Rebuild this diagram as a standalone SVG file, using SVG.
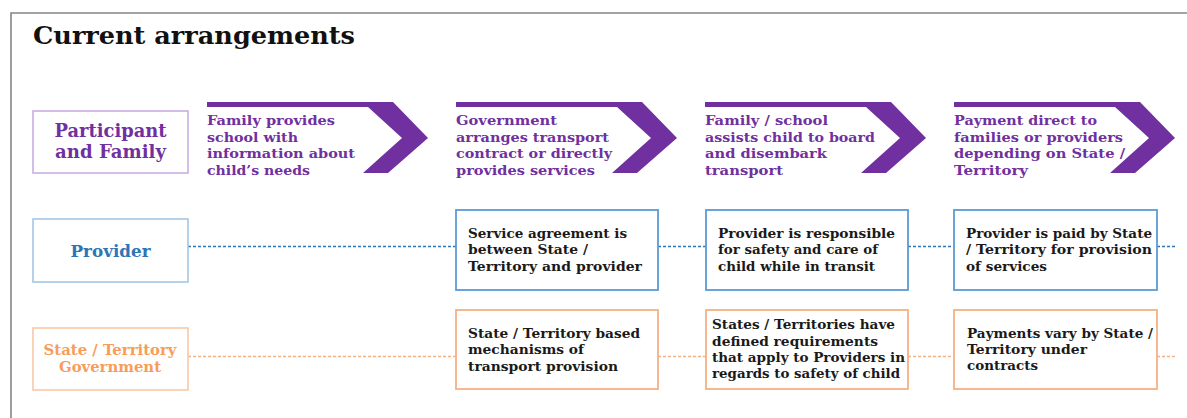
<svg xmlns="http://www.w3.org/2000/svg" width="1187" height="418" viewBox="0 0 1187 418">
<style>
text{font-family:"DejaVu Serif","Liberation Serif",serif;font-weight:bold}
.title{font-size:24px;fill:#111}
.chev{fill:#7030a0}
.ct{font-size:13.5px;fill:#7030a0}
.bt{font-size:13.5px;fill:#1a1a1a}
.pbox{fill:#fff;stroke:#c8a8e2;stroke-width:1.5}
.lbox{fill:#fff;stroke:#9dc3e6;stroke-width:1.5}
.sbox{fill:#fff;stroke:#f8c4a0;stroke-width:1.5}
.bbox{fill:#fff;stroke:#5b9bd5;stroke-width:1.8}
.obox{fill:#fff;stroke:#f4b183;stroke-width:1.8}
.dblue{stroke:#2e75b6;stroke-width:1.4;stroke-dasharray:3 2;fill:none}
.dorange{stroke:#f4b183;stroke-width:1.4;stroke-dasharray:3 2;fill:none}
</style>
<defs>
<polygon id="chevron" points="0,102 186,102 221,138 181,173 156,173 195,138 161,107 0,107"/>
</defs>
<rect width="1187" height="418" fill="#fff"/>
<path d="M11,418 V13 H1187" fill="none" stroke="#858585" stroke-width="1.6"/>
<text class="title" x="33" y="44" textLength="322" lengthAdjust="spacingAndGlyphs">Current arrangements</text>

<g id="connectors">
<line class="dblue" x1="188" y1="246.5" x2="456" y2="246.5"/>
<line class="dblue" x1="658" y1="246.5" x2="706" y2="246.5"/>
<line class="dblue" x1="908" y1="246.5" x2="954" y2="246.5"/>
<line class="dblue" x1="1157" y1="246.5" x2="1176" y2="246.5"/>
<line class="dorange" x1="188" y1="356.5" x2="456" y2="356.5"/>
<line class="dorange" x1="658" y1="356.5" x2="706" y2="356.5"/>
<line class="dorange" x1="908" y1="356.5" x2="954" y2="356.5"/>
<line class="dorange" x1="1157" y1="356.5" x2="1176" y2="356.5"/>
</g>

<g id="participant">
<rect class="pbox" x="33" y="111" width="155" height="62"/>
<text x="110.5" y="137" text-anchor="middle" font-size="18.5" fill="#7030a0" textLength="112" lengthAdjust="spacingAndGlyphs">Participant</text>
<text x="110.5" y="158" text-anchor="middle" font-size="18.5" fill="#7030a0" textLength="111" lengthAdjust="spacingAndGlyphs">and Family</text>
</g>

<g id="step1">
<use href="#chevron" class="chev" x="207"/>
<text class="ct" x="207" y="125" textLength="128" lengthAdjust="spacingAndGlyphs">Family provides</text>
<text class="ct" x="207" y="142" textLength="91" lengthAdjust="spacingAndGlyphs">school with</text>
<text class="ct" x="207" y="158" textLength="148" lengthAdjust="spacingAndGlyphs">information about</text>
<text class="ct" x="207" y="175" textLength="103" lengthAdjust="spacingAndGlyphs">child’s needs</text>
</g>
<g id="step2">
<use href="#chevron" class="chev" x="456"/>
<text class="ct" x="456" y="125" textLength="101" lengthAdjust="spacingAndGlyphs">Government</text>
<text class="ct" x="456" y="142" textLength="153" lengthAdjust="spacingAndGlyphs">arranges transport</text>
<text class="ct" x="456" y="158" textLength="156" lengthAdjust="spacingAndGlyphs">contract or directly</text>
<text class="ct" x="456" y="175" textLength="139" lengthAdjust="spacingAndGlyphs">provides services</text>
</g>
<g id="step3">
<use href="#chevron" class="chev" x="705"/>
<text class="ct" x="705" y="125" textLength="123" lengthAdjust="spacingAndGlyphs">Family / school</text>
<text class="ct" x="705" y="142" textLength="170" lengthAdjust="spacingAndGlyphs">assists child to board</text>
<text class="ct" x="705" y="158" textLength="122" lengthAdjust="spacingAndGlyphs">and disembark</text>
<text class="ct" x="705" y="175" textLength="78" lengthAdjust="spacingAndGlyphs">transport</text>
</g>
<g id="step4">
<use href="#chevron" class="chev" x="954"/>
<text class="ct" x="954" y="125" textLength="143" lengthAdjust="spacingAndGlyphs">Payment direct to</text>
<text class="ct" x="954" y="142" textLength="169" lengthAdjust="spacingAndGlyphs">families or providers</text>
<text class="ct" x="954" y="158" textLength="171" lengthAdjust="spacingAndGlyphs">depending on State /</text>
<text class="ct" x="954" y="175" textLength="74" lengthAdjust="spacingAndGlyphs">Territory</text>
</g>

<g id="provider">
<rect class="lbox" x="33" y="219" width="155" height="63"/>
<text x="110.5" y="257" text-anchor="middle" font-size="16.5" fill="#2e75b6" textLength="80" lengthAdjust="spacingAndGlyphs">Provider</text>
</g>
<g id="provider1">
<rect class="bbox" x="456" y="210" width="202" height="80"/>
<text class="bt" x="468" y="238" textLength="159" lengthAdjust="spacingAndGlyphs">Service agreement is</text>
<text class="bt" x="468" y="254" textLength="120" lengthAdjust="spacingAndGlyphs">between State /</text>
<text class="bt" x="468" y="271" textLength="174" lengthAdjust="spacingAndGlyphs">Territory and provider</text>
</g>
<g id="provider2">
<rect class="bbox" x="706" y="210" width="202" height="80"/>
<text class="bt" x="718" y="238" textLength="177" lengthAdjust="spacingAndGlyphs">Provider is responsible</text>
<text class="bt" x="718" y="254" textLength="160" lengthAdjust="spacingAndGlyphs">for safety and care of</text>
<text class="bt" x="718" y="271" textLength="157" lengthAdjust="spacingAndGlyphs">child while in transit</text>
</g>
<g id="provider3">
<rect class="bbox" x="954" y="210" width="203" height="80"/>
<text class="bt" x="966" y="238" textLength="186" lengthAdjust="spacingAndGlyphs">Provider is paid by State</text>
<text class="bt" x="966" y="254" textLength="186" lengthAdjust="spacingAndGlyphs">/ Territory for provision</text>
<text class="bt" x="966" y="271" textLength="81" lengthAdjust="spacingAndGlyphs">of services</text>
</g>

<g id="state">
<rect class="sbox" x="33" y="328" width="155" height="62"/>
<text x="110" y="355" text-anchor="middle" font-size="15" fill="#f79d5c" textLength="133" lengthAdjust="spacingAndGlyphs">State / Territory</text>
<text x="110" y="372" text-anchor="middle" font-size="15" fill="#f79d5c" textLength="102" lengthAdjust="spacingAndGlyphs">Government</text>
</g>
<g id="state1">
<rect class="obox" x="456" y="310" width="202" height="79"/>
<text class="bt" x="468" y="338" textLength="172" lengthAdjust="spacingAndGlyphs">State / Territory based</text>
<text class="bt" x="468" y="354" textLength="116" lengthAdjust="spacingAndGlyphs">mechanisms of</text>
<text class="bt" x="468" y="371" textLength="150" lengthAdjust="spacingAndGlyphs">transport provision</text>
</g>
<g id="state2">
<rect class="obox" x="706" y="310" width="202" height="79"/>
<text class="bt" x="712" y="329" textLength="183" lengthAdjust="spacingAndGlyphs">States / Territories have</text>
<text class="bt" x="712" y="346" textLength="166" lengthAdjust="spacingAndGlyphs">defined requirements</text>
<text class="bt" x="712" y="362" textLength="193" lengthAdjust="spacingAndGlyphs">that apply to Providers in</text>
<text class="bt" x="712" y="378" textLength="188" lengthAdjust="spacingAndGlyphs">regards to safety of child</text>
</g>
<g id="state3">
<rect class="obox" x="954" y="310" width="203" height="79"/>
<text class="bt" x="967" y="338" textLength="186" lengthAdjust="spacingAndGlyphs">Payments vary by State /</text>
<text class="bt" x="967" y="354" textLength="120" lengthAdjust="spacingAndGlyphs">Territory under</text>
<text class="bt" x="967" y="370" textLength="71" lengthAdjust="spacingAndGlyphs">contracts</text>
</g>
</svg>
